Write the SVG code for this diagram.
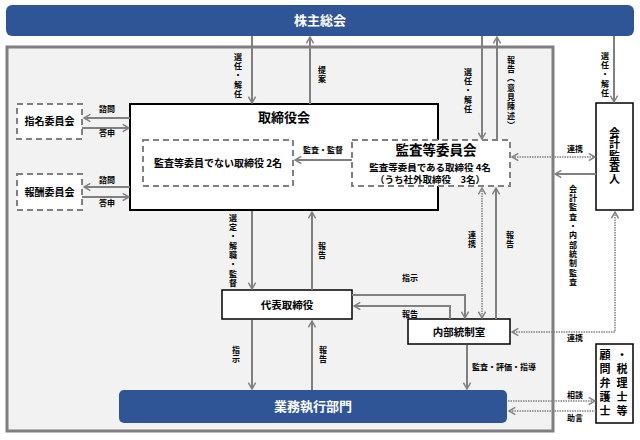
<svg xmlns="http://www.w3.org/2000/svg" width="640" height="440" viewBox="0 0 640 440">
<style>
text{font-family:"Noto Sans CJK JP","Noto Sans CJK SC",sans-serif;font-weight:bold;fill:#000}
.w{fill:#fff;font-size:13px}
.lbl{font-size:8px}
.v{font-size:8px;writing-mode:vertical-rl;letter-spacing:1.3px}
.c{text-anchor:middle}
.ln{fill:none;stroke:#808080;stroke-width:2}
.dt{fill:none;stroke:#808080;stroke-width:1.5;stroke-dasharray:1.5 1}
.dash{fill:#fff;stroke:#808080;stroke-width:2;stroke-dasharray:6 4}
.box{fill:#fff;stroke:#000;stroke-width:1.5}
</style>
<defs>
<marker id="ah" viewBox="0 0 10 10" refX="9" refY="5" markerWidth="9" markerHeight="9" orient="auto-start-reverse" markerUnits="userSpaceOnUse">
<path d="M2,1 L9,5 L2,9" fill="none" stroke="#808080" stroke-width="1.6"/>
</marker>
</defs>
<rect x="7" y="47" width="546" height="384" fill="#F2F2F2" stroke="#7F7F7F" stroke-width="3"/>

<g id="kabunushi">
<rect x="6" y="5" width="628" height="31" rx="6" fill="#2F5597"/>
<text class="w c" x="320" y="25">株主総会</text>
</g>

<g id="torishimariyakukai">
<rect x="130" y="104" width="308" height="106" fill="#fff" stroke="#000" stroke-width="2"/>
<text class="c" x="284" y="122" font-size="13">取締役会</text>
</g>
<g id="hikansa">
<rect class="dash" x="143" y="140" width="150" height="46"/>
<text class="c" x="218" y="167" font-size="10">監査等委員でない取締役 2名</text>
</g>
<g id="kansatou">
<rect class="dash" x="352" y="140" width="158" height="46"/>
<text class="c" x="436" y="155" font-size="13.5">監査等委員会</text>
<text class="c" x="430" y="170.5" font-size="9.5">監査等委員である取締役 4名</text>
<text class="c" x="430" y="183" font-size="9.5">（うち社外取締役　3名）</text>
</g>
<g id="shimei">
<rect class="dash" x="17" y="104" width="65" height="35"/>
<text class="c" x="49.5" y="125" font-size="10">指名委員会</text>
</g>
<g id="hoshu">
<rect class="dash" x="17" y="174" width="65" height="36"/>
<text class="c" x="49.5" y="195.5" font-size="10">報酬委員会</text>
</g>
<g id="kaikei">
<rect class="box" x="596" y="103" width="37" height="107"/>
<text class="c" x="614.5" y="156" font-size="11" style="writing-mode:vertical-rl;letter-spacing:0.5px">会計監査人</text>
</g>
<g id="daihyo">
<rect class="box" x="222" y="290" width="130" height="29"/>
<text class="c" x="287" y="308.5" font-size="10.5">代表取締役</text>
</g>
<g id="naibu">
<rect class="box" x="408" y="319" width="102" height="25"/>
<text class="c" x="459" y="335.5" font-size="10.5">内部統制室</text>
</g>
<g id="gyomu">
<rect x="119" y="390" width="388" height="33" rx="5" fill="#2F5597"/>
<text class="w c" x="313" y="411">業務執行部門</text>
</g>
<g id="komon">
<rect class="box" x="596" y="344" width="37" height="79"/>
<text class="c" x="605" y="384" font-size="11" style="writing-mode:vertical-rl;letter-spacing:3px">顧問弁護士</text>
<text class="c" x="622" y="384" font-size="11" style="writing-mode:vertical-rl;letter-spacing:3px">・税理士等</text>
</g>

<g id="connectors">
<path class="ln" d="M252,36 V103" marker-end="url(#ah)"/>
<path class="ln" d="M310,104 V37" marker-end="url(#ah)"/>
<path class="ln" d="M482,36 V139" marker-end="url(#ah)"/>
<path class="ln" d="M497,140 V37" marker-end="url(#ah)"/>
<path class="ln" d="M614,36 V102" marker-end="url(#ah)"/>
<path class="ln" d="M130,118 H84" marker-end="url(#ah)"/>
<path class="ln" d="M82,128 H129" marker-end="url(#ah)"/>
<path class="ln" d="M130,187 H84" marker-end="url(#ah)"/>
<path class="ln" d="M82,197 H129" marker-end="url(#ah)"/>
<path class="ln" d="M352,160 H295" marker-end="url(#ah)"/>
<path class="ln" d="M596,174 H555" marker-end="url(#ah)"/>
<path class="ln" d="M252,211 V289" marker-end="url(#ah)"/>
<path class="ln" d="M312,290 V212" marker-end="url(#ah)"/>
<path class="ln" d="M352,295 H465 V318" marker-end="url(#ah)"/>
<path class="ln" d="M450,319 V306 H354" marker-end="url(#ah)"/>
<path class="ln" d="M496,319 V188" marker-end="url(#ah)"/>
<path class="ln" d="M252,320 V389" marker-end="url(#ah)"/>
<path class="ln" d="M312,390 V321" marker-end="url(#ah)"/>
<path class="ln" d="M467,345 V389" marker-end="url(#ah)"/>
<path class="dt" d="M482,188 V318" marker-start="url(#ah)" marker-end="url(#ah)"/>
<path class="dt" d="M512,157 H595" marker-start="url(#ah)" marker-end="url(#ah)"/>
<path class="dt" d="M615,212 V332 H512" marker-start="url(#ah)" marker-end="url(#ah)"/>
<path class="dt" d="M508,401 H595" marker-end="url(#ah)"/>
<path class="dt" d="M596,411 H509" marker-end="url(#ah)"/>

<text class="v c" x="238" y="76">選任・解任</text>
<text class="v c" x="322" y="75">提案</text>
<text class="v c" x="468" y="91">選任・解任</text>
<text class="v c" x="511" y="93">報告（意見陳述）</text>
<text class="v c" x="605" y="75">選任・解任</text>
<text class="v c" x="573" y="236">会計監査・内部統制監査</text>
<text class="v c" x="233" y="251">選定・解職・監督</text>
<text class="v c" x="322" y="251">報告</text>
<text class="v c" x="472" y="240">連携</text>
<text class="v c" x="510" y="240">報告</text>
<text class="v c" x="236" y="355">指示</text>
<text class="v c" x="323" y="355">報告</text>

<text class="lbl c" x="107" y="112">諮問</text>
<text class="lbl c" x="107" y="136">答申</text>
<text class="lbl c" x="107" y="183">諮問</text>
<text class="lbl c" x="107" y="206">答申</text>
<text class="lbl c" x="323" y="153">監査・監督</text>
<text class="lbl c" x="575" y="152">連携</text>
<text class="lbl c" x="410" y="281">指示</text>
<text class="lbl c" x="410" y="317">報告</text>
<text class="lbl c" x="575" y="341">連携</text>
<text class="lbl c" x="504" y="370">監査・評価・指導</text>
<text class="lbl c" x="575" y="398">相談</text>
<text class="lbl c" x="575" y="421">助言</text>
</g>
</svg>
